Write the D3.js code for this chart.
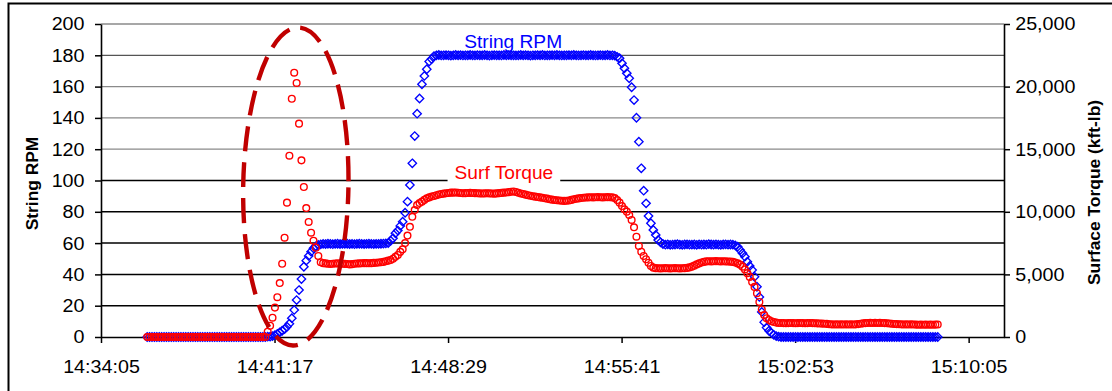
<!DOCTYPE html>
<html><head><meta charset="utf-8">
<script src="https://cdn.jsdelivr.net/npm/d3@7"></script>
<style>
html,body{margin:0;padding:0;background:#fff;}
svg{display:block;}
text{font-family:"Liberation Sans",Arial,Helvetica,sans-serif;}
</style></head><body>
<svg id="chart" width="1112" height="391"></svg>
<script>
// ---------------- data ----------------
const xTickLabels = ["14:34:05","14:41:17","14:48:29","14:55:41","15:02:53","15:10:05"];
const xAxisEnd = "15:11:33";
const rpmTicks = [0,20,40,60,80,100,120,140,160,180,200];
const torqueTicks = [0,5000,10000,15000,20000,25000];
const yLeftTitle = "String RPM";
const yRightTitle = "Surface Torque (kft-lb)";
const seriesNames = ["String RPM","Surf Torque"];

// logger samples: first sample time and sampling interval (s)
const sampleStart = "14:36:00";
const sampleStepSec = 6;

const stringRPM = [
  0,0,0,0,0,0,0,0,0,0,
  0,0,0,0,0,0,0,0,0,0,
  0,0,0,0,0,0,0,0,0,0,
  0,0,0,0,0,0,0,0,0,0,
  0,0,0,0,0,0,0,0,0,0,
  0.2,0.3,0.6,1.2,2,3,4,5,6.6,8.5,12,17.3,23.6,30,37,44.9,48.8,51.8,54.5,56.7,58,58.8,59.2,
  59.5,59.4,59.6,59.5,59.3,59.5,59.6,59.4,59.5,59.5,59.6,59.4,59.5,59.3,59.5,59.6,59.5,59.4,59.5,59.6,59.5,59.4,59.5,59.5,59.6,59.7,59.8,
  60,61.5,63.1,66.3,68,71,73.7,79.4,86.5,97.1,111,128.4,142.7,152.4,161.5,166.8,171.1,176,177.6,179.5,
  180,180.2,179.9,180,180.1,180,179.8,180,180.2,180,180.1,179.9,180,180,180.2,
  180,179.9,180.1,180,180,180.2,180,179.8,180,180.1,180,180,179.9,180.2,180,
  180.1,180,180,179.9,180,180.2,180,180.1,180,179.8,180,180,180.1,180,180.2,
  179.9,180,180,180.1,180,180.2,180,179.9,180,180,180.1,180,180.2,180,179.9,
  180,180.1,180,180,180.2,180,179.9,180,180.1,180,180,180.2,179.9,180,179.8,
  179,178.1,174.9,171.7,168.5,165.3,159.6,151.4,140.1,124.8,107.8,93.5,85.4,77.3,72.7,68.4,65.2,62,60.5,59.4,
  59,59.2,58.9,59,59.1,59.3,59,58.9,59.1,59.2,59,59,59.1,58.9,59.2,59,59.1,59,59.3,59.1,59,59.2,59,58.9,59.1,59.2,59,59.1,59,
  58.5,57.7,55.6,53.5,51.3,48.1,45.4,42.8,38.5,32.1,25.6,16,9.5,6,4,2.6,1.3,0.6,0.2,
  0,0,0,0,0,0,0,0,0,0,0,
  0,0,0,0,0,0,0,0,0,0,0,
  0,0,0,0,0,0,0,0,0,0,0,
  0,0,0,0,0,0,0,0,0,0,0,
  0,0,0,0,0,0,0,0,0,0,0,
  0,0,0,0,0,0,0,0,0,0,0
];

const surfTorque = [
  0,0,0,0,0,0,0,0,0,0,
  0,0,0,0,0,0,0,0,0,0,
  0,0,0,0,0,0,0,0,0,0,
  0,0,0,0,0,0,0,0,0,0,
  0,0,0,0,0,0,0,0,0,0,
  420,900,1540,2350,3180,4310,5850,7930,10730,14480,19030,21110,20290,17040,14110,11980,10300,9190,8330,7690,7130,6470,5970,
  5900,5880,5850,5830,5850,5870,5880,5860,5850,5840,5830,5800,5820,5850,5870,5880,5890,5900,5900,5890,5900,5920,5930,5950,5970,6000,
  6050,6100,6150,6250,6400,6550,6800,7000,7500,8100,8800,9600,10140,10540,10700,10810,10950,11080,11150,11220,11260,11320,11380,11420,11450,11480,11500,11530,
  11530,11540,11520,11500,11480,11490,11500,11510,11500,11490,11480,11470,11460,11470,11480,11470,11460,11450,11470,11490,11510,11530,
  11540,11570,11600,11620,11580,11520,11460,11420,11370,11320,11280,11240,
  11210,11180,11150,11120,11080,11050,11000,10970,10940,10920,10900,10880,10870,10880,10900,10950,11000,11040,11070,11100,
  11120,11140,11150,11160,11150,11160,11170,11160,11150,11160,11170,11160,11150,11100,
  10940,10730,10460,10200,10010,9740,9350,8760,8010,7270,6810,6470,6210,5930,5670,5540,
  5500,5490,5480,5490,5500,5490,5480,5490,5500,5490,5480,5490,5500,5520,
  5560,5620,5700,5800,5880,5950,6000,6040,
  6050,6040,6050,6060,6050,6040,6050,6040,6030,6020,6000,
  5950,5880,5780,5620,5400,5100,4800,4400,4000,3500,2800,2200,1750,1500,1350,1260,1200,1150,1120,
  1120,1110,1100,1110,1120,1110,1100,1110,1120,1110,1100,1110,1120,1110,1100,1090,1080,1070,1060,1050,
  1020,1010,1000,1010,1000,1010,1000,1010,1000,1010,1000,1010,1030,1060,1090,1110,
  1120,1130,1120,1130,1120,1130,1120,1110,1100,1080,1060,1040,1030,
  1020,1010,1000,1010,1000,1010,1000,990,980,990,980,990,980,990,980,990,1000
];

// annotation ellipse (time centre, rpm centre, half width in s, half height in rpm)
const noteCentreTime = "14:42:10";
const noteCentreRpm = 96.2;
const noteHalfSec = 131;
const noteHalfRpm = 101.6;
// series label anchors
const rpmLabelAt = ["14:51:11", 188.5];
const torqueLabelAt = ["14:50:48", 13090];

// ---------------- drawing ----------------
const sec = s => { const [h,m,x] = s.split(":").map(Number); return h*3600+m*60+x; };
const L = 101, R = 1004, T = 24, B = 337;
const SX = 1.065; // horizontal text stretch of the source rendering
const svg = d3.select("#chart");

const x = d3.scaleLinear().domain([sec(xTickLabels[0]), sec(xAxisEnd)]).range([L, R]);
const yL = d3.scaleLinear().domain([0, 200]).range([B, T]);
const yR = d3.scaleLinear().domain([0, 25000]).range([B, T]);

// outer frame (left + top)
svg.append("path").attr("d", "M8.5,391V3.5H1112").attr("fill","none").attr("stroke","#000").attr("stroke-width",2);

// gridlines
svg.append("g").selectAll("line").data(rpmTicks.filter(v => v > 0)).join("line")
  .attr("x1", L).attr("x2", R).attr("y1", d => yL(d)).attr("y2", d => yL(d))
  .attr("stroke", d => d > 100 ? (d === 180 ? "#555" : "#8a8a8a") : "#000")
  .attr("stroke-width", d => d > 100 ? 1.3 : 1.5);

function styleAxis(g, fs) {
  g.attr("font-family", null).attr("font-size", null);
  g.select(".domain").attr("stroke","#000").attr("stroke-width",1.6);
  g.selectAll(".tick line").attr("stroke","#000").attr("stroke-width",1.5);
  g.selectAll(".tick text").attr("fill","#000").style("font-size", fs + "px")
    .attr("transform", `scale(${SX},1)`);
}

const gL = svg.append("g").attr("transform", `translate(${L},0)`)
  .call(d3.axisLeft(yL).tickValues(rpmTicks).tickSize(6).tickPadding(9.5).tickSizeOuter(0));
styleAxis(gL, 18.5);

const gR = svg.append("g").attr("transform", `translate(${R},0)`)
  .call(d3.axisRight(yR).tickValues(torqueTicks).tickFormat(d3.format(",")).tickSize(6).tickPadding(4.5).tickSizeOuter(0));
styleAxis(gR, 18.5);

const gB = svg.append("g").attr("transform", `translate(0,${B})`)
  .call(d3.axisBottom(x).tickValues(xTickLabels.map(sec)).tickFormat((d,i) => xTickLabels[i]).tickSize(6).tickPadding(17).tickSizeOuter(0));
styleAxis(gB, 18.5);

// axis titles
svg.append("text").attr("transform", `translate(32,${(T+B)/2 + 3}) rotate(-90)`)
  .attr("text-anchor","middle").attr("dy","0.35em")
  .style("font-size","17.4px").style("font-weight","bold").text(yLeftTitle);
svg.append("text").attr("transform", `translate(1094,${(T+B)/2 + 12}) rotate(-90)`)
  .attr("text-anchor","middle").attr("dy","0.35em")
  .style("font-size","17.4px").style("font-weight","bold").text(yRightTitle);

// series
const t0 = sec(sampleStart);
const rpmPts = stringRPM.map((v,i) => ({t: t0 + i*sampleStepSec, v}));
const tqPts = surfTorque.map((v,i) => ({t: t0 + i*sampleStepSec, v}));

svg.append("g").selectAll("path").data(rpmPts).join("path")
  .attr("transform", d => `translate(${x(d.t)},${yL(d.v)})`)
  .attr("d", "M0,-4.2L4.2,0L0,4.2L-4.2,0Z")
  .attr("fill","none").attr("stroke","#0000ff").attr("stroke-width",1.35);

svg.append("g").selectAll("circle").data(tqPts).join("circle")
  .attr("cx", d => x(d.t)).attr("cy", d => yR(d.v)).attr("r", 3.35)
  .attr("fill","none").attr("stroke","#ff0000").attr("stroke-width",1.4);

// series labels
svg.append("text")
  .attr("transform", `translate(${x(sec(rpmLabelAt[0]))},${yL(rpmLabelAt[1])}) scale(${SX},1)`)
  .attr("text-anchor","middle").attr("dy","0.35em").attr("fill","#0000ff")
  .style("font-size","18px").text(seriesNames[0]);
const gT = svg.append("g");
const lblT = gT.append("text")
  .attr("transform", `translate(${x(sec(torqueLabelAt[0]))},${yR(torqueLabelAt[1])}) scale(${SX},1)`)
  .attr("text-anchor","middle").attr("dy","0.35em").attr("fill","#ff0000")
  .style("font-size","18px").text(seriesNames[1]);
const bb = lblT.node().getBBox();
const lx = x(sec(torqueLabelAt[0])), ly = yR(torqueLabelAt[1]);
gT.insert("rect","text")
  .attr("x", lx + bb.x*SX - 7).attr("y", ly + bb.y - 1)
  .attr("width", bb.width*SX + 14).attr("height", bb.height + 2).attr("fill","#fff");

// annotation ellipse
const ct = sec(noteCentreTime);
svg.append("ellipse")
  .attr("cx", x(ct)).attr("cy", yL(noteCentreRpm))
  .attr("rx", x(ct + noteHalfSec) - x(ct)).attr("ry", yL(0) - yL(noteHalfRpm))
  .attr("transform", `rotate(1 ${x(ct)} ${yL(noteCentreRpm)})`)
  .attr("fill","none").attr("stroke","#c00000").attr("stroke-width",4.4)
  .attr("stroke-dasharray","25 11").attr("stroke-dashoffset", 8);
</script>
</body></html>
